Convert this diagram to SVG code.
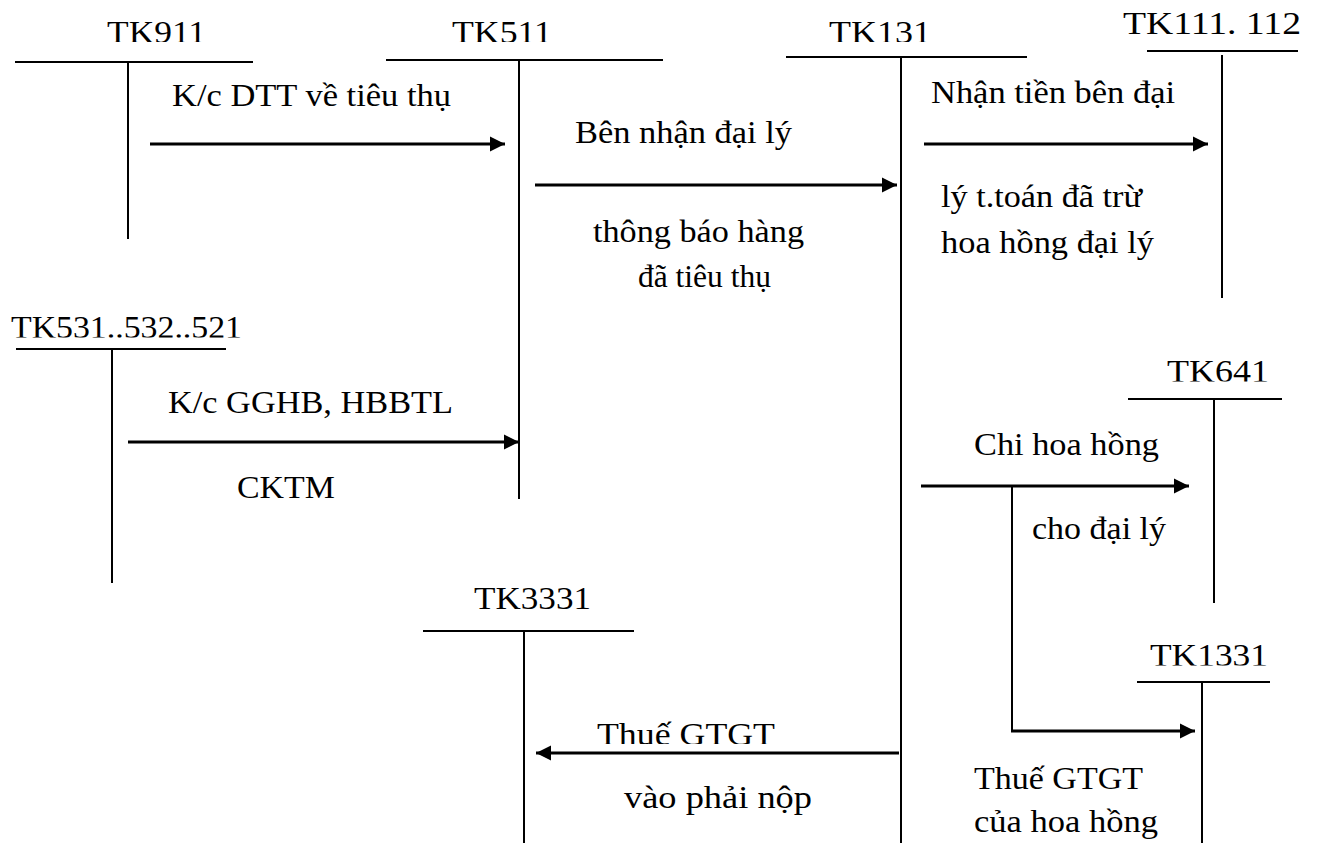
<svg xmlns="http://www.w3.org/2000/svg" width="1323" height="843" viewBox="0 0 1323 843" font-family="Liberation Serif, Times New Roman, serif">
<style>
text{font-family:"Liberation Serif","Times New Roman",serif;font-size:31px;fill:#000}
.t{stroke:#000;stroke-width:2;fill:none}
.a{stroke:#000;stroke-width:3;fill:none;marker-end:url(#ah)}
</style>
<defs>
<marker id="ah" markerUnits="userSpaceOnUse" markerWidth="16" markerHeight="16" viewBox="0 0 16 16" refX="15" refY="8" orient="auto">
<path d="M0,0.5 L15,8 L0,15.5 Z" fill="#000"/>
</marker>
<clipPath id="c1"><rect x="0" y="0" width="1323" height="42"/></clipPath>
<clipPath id="c2"><rect x="0" y="300" width="400" height="37.5"/></clipPath>
<clipPath id="c3"><rect x="1100" y="340" width="223" height="41.5"/></clipPath>
<clipPath id="c4"><rect x="1100" y="620" width="223" height="45.5"/></clipPath>
<clipPath id="c5"><rect x="550" y="700" width="300" height="44"/></clipPath>
</defs>
<rect width="1323" height="843" fill="#fff"/>
<g id="tk911">
<text x="107" y="43" textLength="99" lengthAdjust="spacingAndGlyphs" clip-path="url(#c1)">TK911</text>
<line class="t" x1="15" y1="62" x2="253" y2="62"/>
<line class="t" x1="128" y1="62" x2="128" y2="239"/>
</g>
<g id="tk511">
<text x="452" y="43" textLength="100" lengthAdjust="spacingAndGlyphs" clip-path="url(#c1)">TK511</text>
<line class="t" x1="386" y1="60" x2="663" y2="60"/>
<line class="t" x1="519" y1="60" x2="519" y2="499"/>
</g>
<g id="tk131">
<text x="829" y="43" textLength="102" lengthAdjust="spacingAndGlyphs" clip-path="url(#c1)">TK131</text>
<line class="t" x1="786" y1="57" x2="1027" y2="57"/>
<line class="t" x1="901" y1="57" x2="901" y2="843"/>
</g>
<g id="tk111">
<text x="1123" y="34" textLength="178" lengthAdjust="spacingAndGlyphs">TK111. 112</text>
<line class="t" x1="1147" y1="51" x2="1298" y2="51"/>
<line class="t" x1="1222" y1="55" x2="1222" y2="298"/>
</g>
<g id="tk531">
<text x="11" y="338" textLength="231" lengthAdjust="spacingAndGlyphs" clip-path="url(#c2)">TK531..532..521</text>
<line class="t" x1="16" y1="349" x2="226" y2="349"/>
<line class="t" x1="112" y1="349" x2="112" y2="583"/>
</g>
<g id="tk641">
<text x="1167" y="382" textLength="102" lengthAdjust="spacingAndGlyphs" clip-path="url(#c3)">TK641</text>
<line class="t" x1="1128" y1="399" x2="1282" y2="399"/>
<line class="t" x1="1214" y1="399" x2="1214" y2="603"/>
</g>
<g id="tk3331">
<text x="474" y="609" textLength="117" lengthAdjust="spacingAndGlyphs">TK3331</text>
<line class="t" x1="423" y1="631" x2="634" y2="631"/>
<line class="t" x1="524" y1="631" x2="524" y2="843"/>
</g>
<g id="tk1331">
<text x="1150" y="666" textLength="118" lengthAdjust="spacingAndGlyphs" clip-path="url(#c4)">TK1331</text>
<line class="t" x1="1137" y1="682" x2="1270" y2="682"/>
<line class="t" x1="1202" y1="682" x2="1202" y2="843"/>
</g>
<g id="connectors">
<line class="a" x1="150" y1="144" x2="505" y2="144"/>
<line class="a" x1="535" y1="185" x2="897" y2="185"/>
<line class="a" x1="924" y1="144" x2="1208" y2="144"/>
<line class="a" x1="128" y1="442" x2="519" y2="442"/>
<line class="a" x1="921" y1="486" x2="1189" y2="486"/>
<line class="t" x1="1012" y1="486" x2="1012" y2="731"/>
<line class="a" x1="1011" y1="731" x2="1195" y2="731"/>
<line class="a" x1="899" y1="753" x2="536" y2="753"/>
</g>
<g id="labels">
<text x="172" y="106" textLength="279" lengthAdjust="spacingAndGlyphs">K/c DTT về tiêu thụ</text>
<text x="575" y="143" textLength="217" lengthAdjust="spacingAndGlyphs">Bên nhận đại lý</text>
<text x="593" y="242" textLength="211" lengthAdjust="spacingAndGlyphs">thông báo hàng</text>
<text x="638" y="287" textLength="133" lengthAdjust="spacingAndGlyphs">đã tiêu thụ</text>
<text x="931" y="103" textLength="244" lengthAdjust="spacingAndGlyphs">Nhận tiền bên đại</text>
<text x="941" y="207" textLength="201" lengthAdjust="spacingAndGlyphs">lý t.toán đã trừ</text>
<text x="941" y="253" textLength="213" lengthAdjust="spacingAndGlyphs">hoa hồng đại lý</text>
<text x="168" y="413" textLength="285" lengthAdjust="spacingAndGlyphs">K/c GGHB, HBBTL</text>
<text x="237" y="498" textLength="98" lengthAdjust="spacingAndGlyphs">CKTM</text>
<text x="974" y="455" textLength="185" lengthAdjust="spacingAndGlyphs">Chi hoa hồng</text>
<text x="1032" y="539" textLength="134" lengthAdjust="spacingAndGlyphs">cho đại lý</text>
<text x="597" y="745" textLength="178" lengthAdjust="spacingAndGlyphs" clip-path="url(#c5)">Thuế GTGT</text>
<text x="624" y="808" textLength="188" lengthAdjust="spacingAndGlyphs">vào phải nộp</text>
<text x="974" y="789" textLength="169" lengthAdjust="spacingAndGlyphs">Thuế GTGT</text>
<text x="974" y="832" textLength="184" lengthAdjust="spacingAndGlyphs">của hoa hồng</text>
</g>
</svg>
